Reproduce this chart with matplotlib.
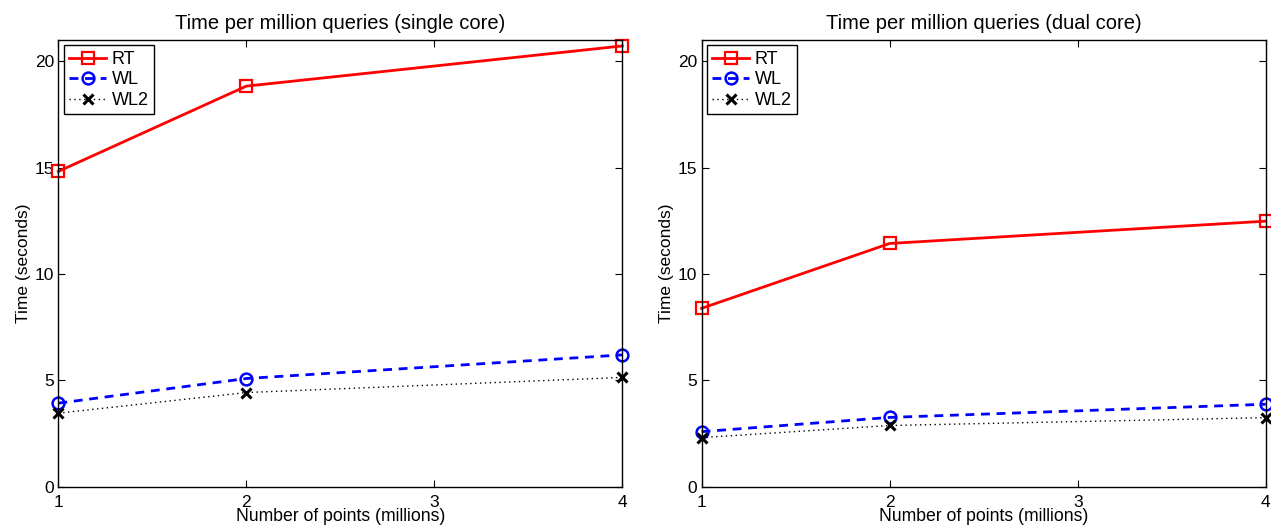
import matplotlib
matplotlib.use("Agg")
import matplotlib.pyplot as plt

plt.rcParams['font.family'] = ['Liberation Sans', 'DejaVu Sans']

# Problem sizes (millions of points)
points = [1, 2, 4]
x_ticks = [1, 2, 3, 4]
y_ticks = [0, 5, 10, 15, 20]

# Time per million queries, single core (seconds)
single_rt = [14.82, 18.83, 20.72]
single_wl = [3.92, 5.08, 6.19]
single_wl2 = [3.45, 4.42, 5.13]

# Time per million queries, dual core (seconds)
dual_rt = [8.38, 11.43, 12.48]
dual_wl = [2.58, 3.25, 3.87]
dual_wl2 = [2.30, 2.87, 3.24]

titles = ["Time per million queries (single core)",
          "Time per million queries (dual core)"]
series_names = ["RT", "WL", "WL2"]

fig = plt.figure(figsize=(12.71, 5.29), dpi=100)
ax_left = fig.add_axes([0.0459, 0.0803, 0.4437, 0.8441])
ax_right = fig.add_axes([0.5520, 0.0803, 0.4439, 0.8441])

panels = [
    (ax_left, titles[0], single_rt, single_wl, single_wl2),
    (ax_right, titles[1], dual_rt, dual_wl, dual_wl2),
]

for ax, title, rt, wl, wl2 in panels:
    ax.plot(points, rt, color='#ff0000', linestyle='-', linewidth=2.0,
            marker='s', markersize=8, markerfacecolor='none',
            markeredgewidth=1.6, label=series_names[0], clip_on=False)
    ax.plot(points, wl, color='#0000ff', linestyle=(0, (3.2, 2.4)), linewidth=2.0,
            marker='o', markersize=8.5, markerfacecolor='none',
            markeredgewidth=1.8, label=series_names[1], clip_on=False)
    ax.plot(points, wl2, color='#000000', linestyle=(0, (1, 2.5)), linewidth=1.0,
            marker='x', markersize=7, markeredgewidth=2.2,
            label=series_names[2], clip_on=False)

    ax.set_xlim(1, 4)
    ax.set_ylim(0, 21)
    ax.set_xticks(x_ticks)
    ax.set_yticks(y_ticks)
    ax.tick_params(axis='both', direction='in', top=True, right=True, length=5,
                   width=0.8, labelsize=12.5)
    ax.tick_params(axis='x', pad=6)
    ax.tick_params(axis='y', pad=3)
    for spine in ax.spines.values():
        spine.set_linewidth(1.0)

    ax.set_title(title, fontsize=14.5, pad=8)
    ax.set_xlabel("Number of points (millions)", fontsize=12.7, labelpad=-1)
    ax.set_ylabel("Time (seconds)", fontsize=12.5, labelpad=3)

    leg = ax.legend(loc='upper left', fontsize=13, numpoints=1,
                    handlelength=2.05, handletextpad=0.3, labelspacing=0.2,
                    borderpad=0.3, borderaxespad=0.3, fancybox=False,
                    framealpha=1.0, edgecolor='black')
    leg.get_frame().set_linewidth(1.0)

fig.savefig("out.png", dpi=100)
